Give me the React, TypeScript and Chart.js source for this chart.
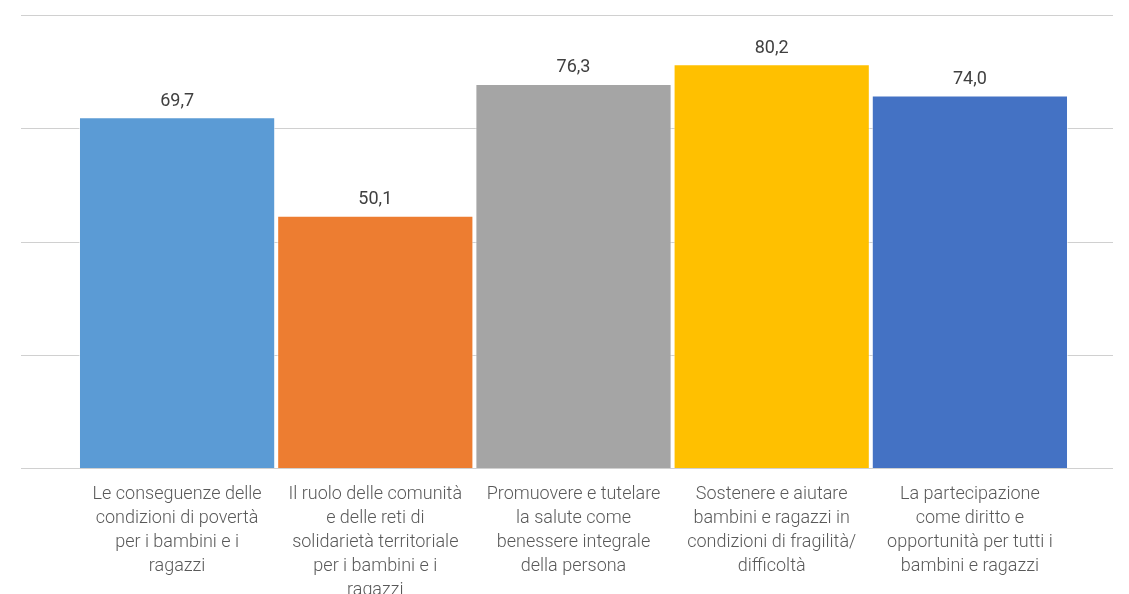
import React, { useEffect, useRef } from "react";
import { Chart, registerables } from "chart.js";

Chart.register(...registerables);

const categories: string[][] = [
  ["Le conseguenze delle", "condizioni di povertà", "per i bambini e i", "ragazzi"],
  ["Il ruolo delle comunità", "e delle reti di", "solidarietà territoriale", "per i bambini e i", "ragazzi"],
  ["Promuovere e tutelare", "la salute come", "benessere integrale", "della persona"],
  ["Sostenere e aiutare", "bambini e ragazzi in", "condizioni di fragilità/", "difficoltà"],
  ["La partecipazione", "come diritto e", "opportunità per tutti i", "bambini e ragazzi"],
];

const values: number[] = [69.7, 50.1, 76.3, 80.2, 74.0];

const barColors: string[] = ["#5B9BD5", "#ED7D31", "#A5A5A5", "#FFC000", "#4472C4"];

const yMax = 90;
const yStep = 22.5;

const FONT = "Roboto, 'Noto Sans', sans-serif";

// Horizontal guide lines spanning wider than the bar area, drawn behind the bars
const gridPlugin = {
  id: "wideGrid",
  beforeDatasetsDraw(chart: any) {
    const { ctx } = chart;
    const y = chart.scales.y;
    ctx.save();
    ctx.strokeStyle = "#d0d0d0";
    ctx.lineWidth = 1;
    for (const t of y.ticks) {
      const py = Math.round(y.getPixelForValue(t.value)) + 0.5;
      ctx.beginPath();
      ctx.moveTo(21, py);
      ctx.lineTo(1113, py);
      ctx.stroke();
    }
    ctx.restore();
  },
};

// Value labels above each bar, with a decimal comma
const valueLabelPlugin = {
  id: "valueLabels",
  afterDatasetsDraw(chart: any) {
    const { ctx } = chart;
    const meta = chart.getDatasetMeta(0);
    ctx.save();
    ctx.fillStyle = "#404040";
    ctx.font = `400 18px ${FONT}`;
    ctx.textAlign = "center";
    ctx.textBaseline = "bottom";
    meta.data.forEach((bar: any, i: number) => {
      const txt = values[i].toFixed(1).replace(".", ",");
      ctx.fillText(txt, bar.x, bar.y - 7);
    });
    ctx.restore();
  },
};

export default function App() {
  const canvasRef = useRef<HTMLCanvasElement | null>(null);

  useEffect(() => {
    document.body.style.margin = "0";
    const canvas = canvasRef.current;
    if (!canvas) return;
    const chart = new Chart(canvas, {
      type: "bar",
      data: {
        labels: categories,
        datasets: [
          {
            data: values,
            backgroundColor: barColors,
            borderColor: "rgba(255,255,255,0.6)",
            borderWidth: 1,
            barPercentage: 0.99,
            categoryPercentage: 1,
          },
        ],
      },
      options: {
        responsive: false,
        animation: false,
        layout: { padding: { left: 78, right: 60, top: 15, bottom: 0 } },
        plugins: {
          legend: { display: false },
          tooltip: { enabled: false },
        },
        scales: {
          x: {
            grid: { display: false },
            border: { display: false },
            ticks: {
              autoSkip: false,
              maxRotation: 0,
              minRotation: 0,
              padding: 6,
              color: "#595959",
              font: { family: FONT, size: 18, weight: 300, lineHeight: "24px" },
            },
            afterFit(scale: any) {
              scale.height = 126;
            },
          },
          y: {
            display: false,
            min: 0,
            max: yMax,
            ticks: { stepSize: yStep },
          },
        },
      },
      plugins: [gridPlugin, valueLabelPlugin],
    });
    return () => chart.destroy();
  }, []);

  return (
    <div style={{ width: 1129, height: 594, background: "#ffffff" }}>
      <canvas ref={canvasRef} width={1129} height={594} />
    </div>
  );
}
